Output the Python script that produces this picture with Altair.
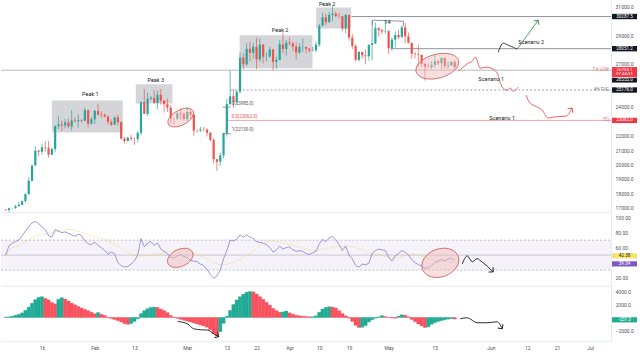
import altair as alt
import pandas as pd

FONT = "Roboto"
UP, DN = "#26a69a", "#ef5350"

# ---------------- daily candles, first day 2023-01-05 ----------------
first_day = "2023-01-05"
open_ = [16852,16832,16951,16955,17091,17197,17446,17934,18869,19930,
         20954,20880,21185,21133,20677,21072,22667,22784,22707,22917,
         22636,23055,23009,23078,23031,23774,22840,23139,23724,23471,
         23449,23331,22955,22760,23264,22939,21797,21626,21862,21783,
         21773,22199,24324,23517,24569,24631,24271,24842,24439,24189,
         23947,23198,23175,23554,23492,23147,23647,23475,22362,22354,
         22430,22410,22197,21705,20363,20187,20633,22163,24197,24746,
         24375,25052,27423,26965,28038,27767,28175,27307,28333,27493,
         27494,27994,27139,27268,28348,28033,28478,28411,28199,27790,
         28168,28177,28044,27925,27947,28333,29653,30235,29892,30399,
         30485,30318,30315,29445,30397,28822,28245,27276,27817,27591,
         27525,28307,28422,29473,29340,29248,29268,28091,28680,29006,
         28847,29534,28904,28454,27694,27658,27621,26987,26804,26784,
         26931,27170,27036,27398,26832,26890,27129]
high = [16880,16991,16975,17177,17389,17492,17987,19106,19974,21259,
        21031,21439,21622,21632,21183,22750,23345,23058,23162,23183,
        23778,23281,23486,23166,23955,23808,23307,23780,24238,23685,
        23565,23421,23151,23349,23442,23008,21900,21897,22073,21878,
        22300,24371,25250,24993,24763,25137,25120,25250,24472,24584,
        24132,23218,23663,23880,23600,23971,23781,23493,22414,22621,
        22603,22532,22269,21817,20368,20831,22181,24560,26515,25234,
        25188,27780,27728,28440,28537,28456,28830,28749,28385,27795,
        28187,28031,27494,28640,29165,28654,28812,28530,28490,28433,
        28765,28187,28105,28171,28530,29770,30541,30465,30608,31000,
        30611,30548,30315,30470,30411,29078,28369,27885,27821,28004,
        28375,30017,29880,29572,29450,29960,29338,28871,29254,29353,
        29660,29830,29181,28459,27823,28335,27630,27064,27038,27185,
        27650,27268,27470,27480,27185,27150,27270]
low = [16753,16678,16915,16917,17091,17150,17327,17900,18798,19893,
       20565,20662,20893,20467,20665,20870,22466,22315,22520,22509,
       22350,22890,22561,22890,23000,22567,22752,22820,23377,23236,
       23266,22776,22658,22750,22695,21711,21460,21599,21636,21361,
       21530,22045,23505,23350,24446,24221,23842,24158,23618,23645,
       22854,22748,23068,23104,23030,23027,23201,21987,22206,22250,
       22310,21940,21608,20058,19549,19900,20436,21925,24095,23941,
       24215,24943,26628,26875,27161,27359,26638,27140,27025,27170,
       27448,26563,26653,27246,27725,27552,28256,27874,27276,27673,
       27832,27724,27790,27885,27802,28176,29609,29688,29850,29966,
       30252,30165,29265,29112,28614,28016,27151,27150,27354,26962,
       27215,27245,28380,28899,29064,29096,27680,27900,28125,28702,
       28841,28404,28414,27342,27375,26815,26766,25835,26707,26606,
       26741,26873,26600,26650,26650,26840,26690]
close = [16832,16951,16955,17091,17197,17446,17934,18869,19930,20954,
         20880,21185,21133,20677,21072,22667,22784,22707,22917,22636,
         23055,23009,23078,23031,23774,22840,23139,23724,23471,23449,
         23331,22955,22760,23264,22939,21797,21626,21862,21783,21773,
         22199,24324,23517,24569,24631,24271,24842,24439,24189,23947,
         23198,23175,23554,23492,23147,23647,23475,22362,22354,22430,
         22410,22197,21705,20363,20187,20633,22163,24197,24746,24375,
         25052,27423,26965,28038,27767,28175,27307,28333,27493,27494,
         27994,27139,27268,28348,28033,28478,28411,28199,27790,28168,
         28177,28044,27925,27947,28333,29653,30235,29892,30399,30485,
         30318,30315,29445,30397,28822,28245,27276,27817,27591,27525,
         28307,28422,29473,29340,29248,29268,28091,28680,29006,28847,
         29534,28904,28454,27694,27658,27621,26987,26804,26784,26931,
         27170,27036,27398,26832,26890,27129,26753]
rsi = [50,62,66,68,70,76,82,88,93,95,
       92,88,84,76,74,84,82,80,81,79,
       77,75,78,76,69,65,64,67,63,60,
       56,51,54,52,40,36,34,35,38,42,
       50,72,61,66,68,63,66,58,55,52,
       47,46,49,51,48,47,43,42,41,38,
       36,31,24,19,22,30,45,56,70,69,
       71,77,74,77,74,72,68,67,66,64,
       60,54,57,62,58,60,61,57,55,56,
       55,52,51,53,55,65,71,68,73,75,
       70,64,56,62,50,45,36,34,38,37,
       39,52,56,58,57,56,47,42,49,52,
       56,54,50,44,40,37,36,32,33,36,
       40,42,44,42,45,46,43]
macd = [50,100,200,330,480,700,1100,1600,2200,2750,
        3100,3200,2950,2700,2300,2100,2800,3050,2850,2550,
        2200,1950,1700,1450,1250,1050,800,560,760,500,
        300,50,-150,-300,-480,-700,-950,-1050,-950,-600,
        -200,600,1050,1350,1550,1600,1550,1300,1050,750,
        300,50,-120,-280,-420,-550,-700,-850,-1000,-1150,
        -1300,-1500,-1900,-2500,-2900,-2200,-900,200,1100,2000,
        2700,3200,3600,3900,4000,3950,3600,3200,2800,2350,
        1900,1400,1050,800,850,1000,700,500,350,260,
        200,150,100,120,250,800,1300,1550,1650,1600,
        1450,1050,600,250,-100,-600,-1200,-1550,-1500,-1250,
        -700,-350,-100,100,280,150,0,-80,-120,200,
        420,350,100,-300,-650,-1000,-1300,-1550,-1450,-1050,
        -800,-600,-480,-350,-250,-180,-237]

# axis tick labels (values hidden behind price tags in the reference are omitted)
tick_days = ["2023-01-16", "2023-02-01", "2023-02-13", "2023-03-01", "2023-03-13",
             "2023-03-22", "2023-04-01", "2023-04-10", "2023-04-19", "2023-05-01",
             "2023-05-15", "2023-06-01", "2023-06-12", "2023-06-21", "2023-07-01"]
price_ticks = [17000, 18000, 19000, 20000, 21000, 22000, 24000, 27000, 29000, 31000]
rsi_ticks = [20, 60, 80, 100]
macd_ticks = [-2000, 2000, 4000]

X_START, X_END = "2023-01-03T14:24:00Z", "2023-07-07T08:40:00Z"


def ms(s):
    return int(pd.Timestamp(s).value // 10**6)


days = pd.date_range(first_day, periods=len(close), freq="D")
F = "%Y-%m-%dT%H:%M:%SZ"
candles = pd.DataFrame({
    "date": list(days.strftime(F)),
    "t0": list((days - pd.Timedelta(hours=12)).strftime(F)),
    "t1": list((days + pd.Timedelta(hours=12)).strftime(F)),
    "open": open_, "high": high, "low": low, "close": close,
    "rsi": rsi, "macd": macd,
})

# ---------------- scales & axes ----------------
xsc = alt.Scale(type="utc", domain=[ms(X_START), ms(X_END)], nice=False)
psc = alt.Scale(domain=[16694, 31417], nice=False, zero=False)
rsc = alt.Scale(domain=[8.9, 106.3], nice=False, zero=False)
msc = alt.Scale(domain=[-3585, 4877], nice=False, zero=False)


def right_axis(values, fmt):
    return alt.Axis(orient="right", values=values, format=fmt, labelFont=FONT,
                    labelFontSize=5, labelColor="#50535e", labelPadding=4,
                    labelAlign="left", ticks=False, grid=False, domain=True,
                    domainColor="#e0e3eb", domainWidth=0.8, minExtent=29,
                    maxExtent=29, labelOverlap=False, labelFlush=False)


hidden_x = alt.Axis(orient="bottom", labels=False, ticks=False, grid=False,
                    domain=True, domainColor="#e0e3eb", domainWidth=0.8,
                    minExtent=0, maxExtent=0)
bottom_x = alt.Axis(orient="bottom", values=[ms(d) for d in tick_days],
                    labelExpr="utcdate(datum.value) == 1 ? utcFormat(datum.value, '%b') : utcFormat(datum.value, '%-d')",
                    labelFont=FONT, labelFontSize=5, labelColor="#50535e",
                    labelPadding=5, ticks=False, grid=False, domain=True,
                    domainColor="#e0e3eb", domainWidth=0.8, minExtent=15,
                    maxExtent=15, labelOverlap=False, labelFlush=False)


class Panel:
    def __init__(self, ysc, yaxis, xaxis):
        self.ysc, self.yaxis, self.xaxis = ysc, yaxis, xaxis

    def x(self, field):
        return alt.X(f"{field}:T", scale=xsc, axis=self.xaxis, title=None)

    def y(self, field):
        return alt.Y(f"{field}:Q", scale=self.ysc, axis=self.yaxis, title=None)


P = Panel(psc, right_axis(price_ticks, ".1f"), hidden_x)
R = Panel(rsc, right_axis(rsi_ticks, ".2f"), hidden_x)
M = Panel(msc, right_axis(macd_ticks, ".1f"), bottom_x)


def ellipse(pn, t, v, a, b, angle):
    r = round(b / a, 3)
    path = f"M -1 0 A 1 {r} 0 1 0 1 0 A 1 {r} 0 1 0 -1 0 Z"
    d = pd.DataFrame({"t": [t], "v": [v]})
    return alt.Chart(d).mark_point(shape=path, size=(2 * a) ** 2, angle=angle,
                                   filled=True, fill="#f2b8b5", fillOpacity=0.45,
                                   stroke="#c9625e", strokeWidth=0.8, opacity=1).encode(
        x=pn.x("t"), y=pn.y("v"))


CHEV = "M -1 1 L 0 0 L 1 1"


def arrowheads(pn, d):
    return alt.Chart(d).mark_point(shape=CHEV, size=42, filled=False,
                                   strokeWidth=0.9, opacity=1).encode(
        x=pn.x("t"), y=pn.y("v"), angle=alt.Angle("ang:Q", scale=None),
        color=alt.Color("c:N", scale=None))


def paths(pn, d, width=0.9):
    return alt.Chart(d).mark_line(strokeWidth=width, interpolate="monotone").encode(
        x=pn.x("t"), y=pn.y("v"), detail="seg:N", order="k:Q",
        color=alt.Color("c:N", scale=None))


def tag(pn, v, text, bg, fg, off=0.0, half=2.7):
    d = pd.DataFrame({"v": [v], "text": [text]})
    box = alt.Chart(d).mark_rect(fill=bg, yOffset=off - half, y2Offset=off + half).encode(
        x=alt.value(612), x2=alt.value(637), y=pn.y("v"), y2="v")
    txt = alt.Chart(d).mark_text(font=FONT, fontSize=4.6, color=fg, dy=off,
                                 align="center", baseline="middle").encode(
        x=alt.value(624.5), y=pn.y("v"), text="text:N")
    return [box, txt]


candle_color = alt.condition("datum.close >= datum.open", alt.value(UP), alt.value(DN))

# ---------------- price panel ----------------
boxes = pd.DataFrame({
    "t0": ["2023-01-19T00:30:00Z", "2023-02-13T10:00:00Z", "2023-03-16T20:50:00Z", "2023-04-09T01:40:00Z"],
    "t1": ["2023-02-09T11:45:00Z", "2023-02-24T12:30:00Z", "2023-04-07T22:50:00Z", "2023-04-19T15:35:00Z"],
    "top": [24440, 25583, 28986, 30910],
    "bottom": [22220, 24243, 26694, 29450],
})
box_layer = alt.Chart(boxes).mark_rect(fill="#9ea1aa", opacity=0.45).encode(
    x=P.x("t0"), x2="t1", y=P.y("top"), y2="bottom")

levels = pd.DataFrame({
    "t0": ["2023-04-19T17:45:00Z", "2023-05-01T12:45:00Z", X_START,
           "2023-03-12T22:30:00Z", "2023-03-11T17:30:00Z", "2023-03-11T17:30:00Z"],
    "t1": [X_END, X_END, X_END, X_END, "2023-03-14T03:40:00Z", "2023-03-14T03:40:00Z"],
    "v": [30287.5, 28051.2, 26555.0, 23062.0, 23985.0, 22139.0],
    "c": ["#787b86", "#787b86", "#a3a6af", "#f28b8b", "#787b86", "#787b86"],
})
level_layer = alt.Chart(levels).mark_rule(strokeWidth=0.8).encode(
    x=P.x("t0"), x2="t1", y=P.y("v"), color=alt.Color("c:N", scale=None))
fvg = pd.DataFrame({"t0": ["2023-03-14T03:40:00Z"], "t1": [X_END], "v": [25176.0]})
fvg_layer = alt.Chart(fvg).mark_rule(strokeWidth=0.7, strokeDash=[2, 2], color="#787b86").encode(
    x=P.x("t0"), x2="t1", y=P.y("v"))
fibv = pd.DataFrame({"t": ["2023-03-12T22:30:00Z"], "v0": [22139.0], "v1": [23985.0]})
fibv_layer = alt.Chart(fibv).mark_rule(strokeWidth=0.6, color="#9598a1").encode(
    x=P.x("t"), y=P.y("v0"), y2="v1")

wicks = alt.Chart(candles).mark_rule(strokeWidth=0.7).encode(
    x=P.x("date"), y=P.y("low"), y2="high", color=candle_color)
bodies = alt.Chart(candles).mark_rule(strokeWidth=2.2).encode(
    x=P.x("date"), y=P.y("open"), y2="close", color=candle_color)

scen = pd.DataFrame([
    ("s2a", 0, "2023-06-03T04:30:00Z", 27806, "#2a2e39"),
    ("s2a", 1, "2023-06-04T16:50:00Z", 28431, "#2a2e39"),
    ("s2a", 2, "2023-06-06T05:00:00Z", 28292, "#2a2e39"),
    ("s2a", 3, "2023-06-07T17:30:00Z", 28153, "#2a2e39"),
    ("s2a", 4, "2023-06-08T22:30:00Z", 28014, "#2a2e39"),
    ("s2b", 0, "2023-06-08T22:30:00Z", 28014, "#3d9a50"),
    ("s2b", 1, "2023-06-15T07:00:00Z", 30028, "#3d9a50"),
    ("s1a", 0, "2023-05-22T02:25:00Z", 26486, "#e5534b"),
    ("s1a", 1, "2023-05-23T21:50:00Z", 26833, "#e5534b"),
    ("s1a", 2, "2023-05-25T02:50:00Z", 27042, "#e5534b"),
    ("s1a", 3, "2023-05-26T08:00:00Z", 27181, "#e5534b"),
    ("s1a", 4, "2023-05-27T05:45:00Z", 27458, "#e5534b"),
    ("s1a", 5, "2023-05-28T18:00:00Z", 26694, "#e5534b"),
    ("s1a", 6, "2023-05-30T13:30:00Z", 26764, "#e5534b"),
    ("s1a", 7, "2023-06-01T09:00:00Z", 26660, "#e5534b"),
    ("s1a", 8, "2023-06-02T21:20:00Z", 26347, "#e5534b"),
    ("s1a", 9, "2023-06-04T09:40:00Z", 25375, "#e5534b"),
    ("s1a", 10, "2023-06-05T21:50:00Z", 25167, "#e5534b"),
    ("s1a", 11, "2023-06-06T19:30:00Z", 25306, "#e5534b"),
    ("s1a", 12, "2023-06-07T17:30:00Z", 25097, "#e5534b"),
    ("s1a", 13, "2023-06-09T05:45:00Z", 25375, "#e5534b"),
    ("s1b", 0, "2023-06-11T15:50:00Z", 24819, "#e5534b"),
    ("s1b", 1, "2023-06-12T13:40:00Z", 24333, "#e5534b"),
    ("s1b", 2, "2023-06-14T09:10:00Z", 24056, "#e5534b"),
    ("s1b", 3, "2023-06-16T12:00:00Z", 23778, "#e5534b"),
    ("s1b", 4, "2023-06-18T07:30:00Z", 23222, "#e5534b"),
    ("s1b", 5, "2023-06-19T19:40:00Z", 23292, "#e5534b"),
    ("s1b", 6, "2023-06-23T18:00:00Z", 23361, "#e5534b"),
    ("s1b", 7, "2023-06-25T13:40:00Z", 23917, "#e5534b"),
], columns=["seg", "k", "t", "v", "c"])
price_heads = pd.DataFrame({
    "t": ["2023-06-15T07:00:00Z", "2023-06-25T13:40:00Z"],
    "v": [30028, 23917], "ang": [36, 37], "c": ["#3d9a50", "#e5534b"]})

bracket = pd.DataFrame({
    "k": [0, 1, 2, 3],
    "t": ["2023-04-26T02:00:00Z", "2023-04-26T02:00:00Z", "2023-05-05T11:00:00Z", "2023-05-05T11:00:00Z"],
    "v": [29680, 30028, 29958, 29610]})
bracket_layer = alt.Chart(bracket).mark_line(strokeWidth=0.6, color="#50535e").encode(
    x=P.x("t"), y=P.y("v"), order="k:Q")

center_txt = pd.DataFrame({
    "t": ["2023-01-30T16:00:00Z", "2023-02-19T11:20:00Z", "2023-03-29T03:00:00Z",
          "2023-04-12T09:20:00Z", "2023-06-13T04:00:00Z", "2023-06-01T02:00:00Z",
          "2023-06-04T09:40:00Z", "2023-04-30T15:00:00Z"],
    "v": [24889, 25861, 29382, 31180, 28500, 25930, 23257, 29889],
    "text": ["Peak 1", "Peak 3", "Peak 2", "Peak 2", "Scenario 2", "Scenario 1", "Scenario 1", "14"],
})
center_layer = alt.Chart(center_txt).mark_text(font=FONT, fontSize=5.5, color="#131722",
                                               align="center", baseline="middle").encode(
    x=P.x("t"), y=P.y("v"), text="text:N")
fib_txt = pd.DataFrame({
    "t": ["2023-03-14T10:50:00Z"] * 3,
    "v": [24194, 23292, 22389],
    "text": ["0(23985.0)", "0.5(23062.0)", "1(22139.0)"],
    "c": ["#50535e", "#e5534b", "#50535e"]})
fib_layer = alt.Chart(fib_txt).mark_text(font=FONT, fontSize=4.5, align="left",
                                         baseline="middle").encode(
    x=P.x("t"), y=P.y("v"), text="text:N", color=alt.Color("c:N", scale=None))
side_txt = pd.DataFrame({
    "v": [26555.0, 25176.0, 23062.0],
    "text": ["7.6 LOW", "4H FVG", "EQ"],
    "c": ["#e57373", "#787b86", "#e57373"]})
side_layer = alt.Chart(side_txt).mark_text(font=FONT, fontSize=4.5, align="right",
                                           baseline="middle").encode(
    x=alt.value(609), y=P.y("v"), text="text:N", color=alt.Color("c:N", scale=None))

price_layers = [box_layer, level_layer, fvg_layer, fibv_layer, wicks, bodies,
                ellipse(P, "2023-02-27T00:45:00Z", 23257, 14, 7.5, 332),
                ellipse(P, "2023-05-15T18:00:00Z", 26833, 22, 12, 345),
                paths(P, scen), arrowheads(P, price_heads), bracket_layer,
                center_layer, fib_layer, side_layer]
price_layers += tag(P, 30287.5, "30287.5", "#131722", "#ffffff")
price_layers += tag(P, 28051.2, "28051.2", "#131722", "#ffffff")
price_layers += tag(P, 26555.0, "26555.0", "#131722", "#ffffff", off=10.0, half=2.4)
price_layers += tag(P, 25176.0, "25176.0", "#131722", "#ffffff")
price_layers += tag(P, 23062.0, "23062.0", "#f23645", "#ffffff")
# current price box (two lines)
cur = pd.DataFrame({"v": [26753.0], "a": ["26753.1"], "b": ["07:44:31"]})
price_layers.append(alt.Chart(cur).mark_rect(fill="#f23645", yOffset=-0.3, y2Offset=9.8).encode(
    x=alt.value(612), x2=alt.value(637), y=P.y("v"), y2="v"))
price_layers.append(alt.Chart(cur).mark_text(font=FONT, fontSize=4.4, color="#ffffff", dy=2.3).encode(
    x=alt.value(624.5), y=P.y("v"), text="a:N"))
price_layers.append(alt.Chart(cur).mark_text(font=FONT, fontSize=4.4, color="#ffffff", dy=7.1).encode(
    x=alt.value(624.5), y=P.y("v"), text="b:N"))

price = alt.layer(*price_layers).properties(width=611, height=212)

# ---------------- RSI panel ----------------
band = pd.DataFrame({"t0": [X_START], "t1": [X_END], "lo": [30], "hi": [70]})
rsi_band = alt.Chart(band).mark_rect(fill="#7e57c2", opacity=0.08).encode(
    x=R.x("t0"), x2="t1", y=R.y("hi"), y2="lo")
rsi_lv = pd.DataFrame({"t0": [X_START] * 2, "t1": [X_END] * 2, "v": [70, 30]})
rsi_dash = alt.Chart(rsi_lv).mark_rule(strokeWidth=0.6, strokeDash=[2, 2], color="#9598a1").encode(
    x=R.x("t0"), x2="t1", y=R.y("v"))
rsi_mid = alt.Chart(pd.DataFrame({"t0": [X_START], "t1": [X_END], "v": [50]})).mark_rule(
    strokeWidth=0.6, color="#9598a1", opacity=0.8).encode(x=R.x("t0"), x2="t1", y=R.y("v"))
rsi_ma = alt.Chart(candles).transform_window(
    ma="mean(rsi)", frame=[-13, 0], sort=[alt.SortField("date")]
).mark_line(color="#f5d36b", strokeWidth=0.8, opacity=0.55).encode(x=R.x("date"), y=R.y("ma"))
rsi_line = alt.Chart(candles).mark_line(color="#8c7bd1", strokeWidth=0.8).encode(
    x=R.x("date"), y=R.y("rsi"))
rsi_arrow = pd.DataFrame([
    ("r", 0, "2023-05-23T07:30:00Z", 38.3, "#131722"),
    ("r", 1, "2023-05-24T19:40:00Z", 48.9, "#131722"),
    ("r", 2, "2023-05-26T08:00:00Z", 41.0, "#131722"),
    ("r", 3, "2023-05-27T20:10:00Z", 45.3, "#131722"),
    ("r", 4, "2023-05-28T18:00:00Z", 42.7, "#131722"),
    ("r", 5, "2023-05-30T20:40:00Z", 35.1, "#131722"),
    ("r", 6, "2023-06-01T16:20:00Z", 27.6, "#131722"),
], columns=["seg", "k", "t", "v", "c"])
rsi_head = pd.DataFrame({"t": ["2023-06-01T16:20:00Z"], "v": [27.6], "ang": [132], "c": ["#131722"]})
rsi_layers = [rsi_band, rsi_dash, rsi_mid, rsi_ma, rsi_line,
              ellipse(R, "2023-02-26T21:10:00Z", 46.3, 13.5, 8.5, 335),
              ellipse(R, "2023-05-16T15:40:00Z", 39.6, 19, 14, 340),
              paths(R, rsi_arrow), arrowheads(R, rsi_head)]
rsi_layers += tag(R, 42.38, "42.38", "#f5e36b", "#131722", off=-4.9, half=2.6)
rsi_layers += tag(R, 39.04, "39.04", "#7e57c2", "#ffffff", off=0.6, half=2.6)
rsi_p = alt.layer(*rsi_layers).properties(width=611, height=73)

# ---------------- MACD panel ----------------
macd_bars = alt.Chart(candles).transform_window(
    prev="lag(macd)", sort=[alt.SortField("date")]
).mark_rect(strokeWidth=0.4).encode(
    x=M.x("t0"), x2="t1", y=M.y("macd"), y2=alt.datum(0),
    color=alt.condition("datum.prev == null || datum.macd >= datum.prev",
                        alt.value("#22ab94"), alt.value("#f7525f")),
    stroke=alt.condition("datum.prev == null || datum.macd >= datum.prev",
                         alt.value("#22ab94"), alt.value("#f7525f")))
macd_arrow = pd.DataFrame([
    ("m1", 0, "2023-02-26T02:50:00Z", -615, "#131722"),
    ("m1", 1, "2023-03-01T03:40:00Z", -1015, "#131722"),
    ("m1", 2, "2023-03-02T23:00:00Z", -1738, "#131722"),
    ("m1", 3, "2023-03-05T01:55:00Z", -1892, "#131722"),
    ("m1", 4, "2023-03-07T04:50:00Z", -1938, "#131722"),
    ("m1", 5, "2023-03-09T00:15:00Z", -2508, "#131722"),
    ("m1", 6, "2023-03-10T12:30:00Z", -2969, "#131722"),
    ("m2", 0, "2023-05-22T16:50:00Z", -200, "#131722"),
    ("m2", 1, "2023-05-24T19:40:00Z", -46, "#131722"),
    ("m2", 2, "2023-05-27T20:10:00Z", -815, "#131722"),
    ("m2", 3, "2023-05-30T20:40:00Z", -815, "#131722"),
    ("m2", 4, "2023-06-02T21:20:00Z", -662, "#131722"),
    ("m2", 5, "2023-06-04T09:40:00Z", -1738, "#131722"),
], columns=["seg", "k", "t", "v", "c"])
macd_heads = pd.DataFrame({"t": ["2023-03-10T12:30:00Z", "2023-06-04T09:40:00Z"],
                           "v": [-2969, -1738], "ang": [121, 144], "c": ["#131722", "#131722"]})
macd_layers = [macd_bars, paths(M, macd_arrow), arrowheads(M, macd_heads)]
macd_layers += tag(M, -237.3, "-237.3", "#22ab94", "#ffffff", off=0.8, half=2.6)
macd_p = alt.layer(*macd_layers).properties(width=611, height=55)

chart = alt.vconcat(price, rsi_p, macd_p, spacing=0).properties(
    padding=0, background="#ffffff").configure_view(stroke=None)

chart.save("out.html", embed_options={"renderer": "svg", "actions": False})
